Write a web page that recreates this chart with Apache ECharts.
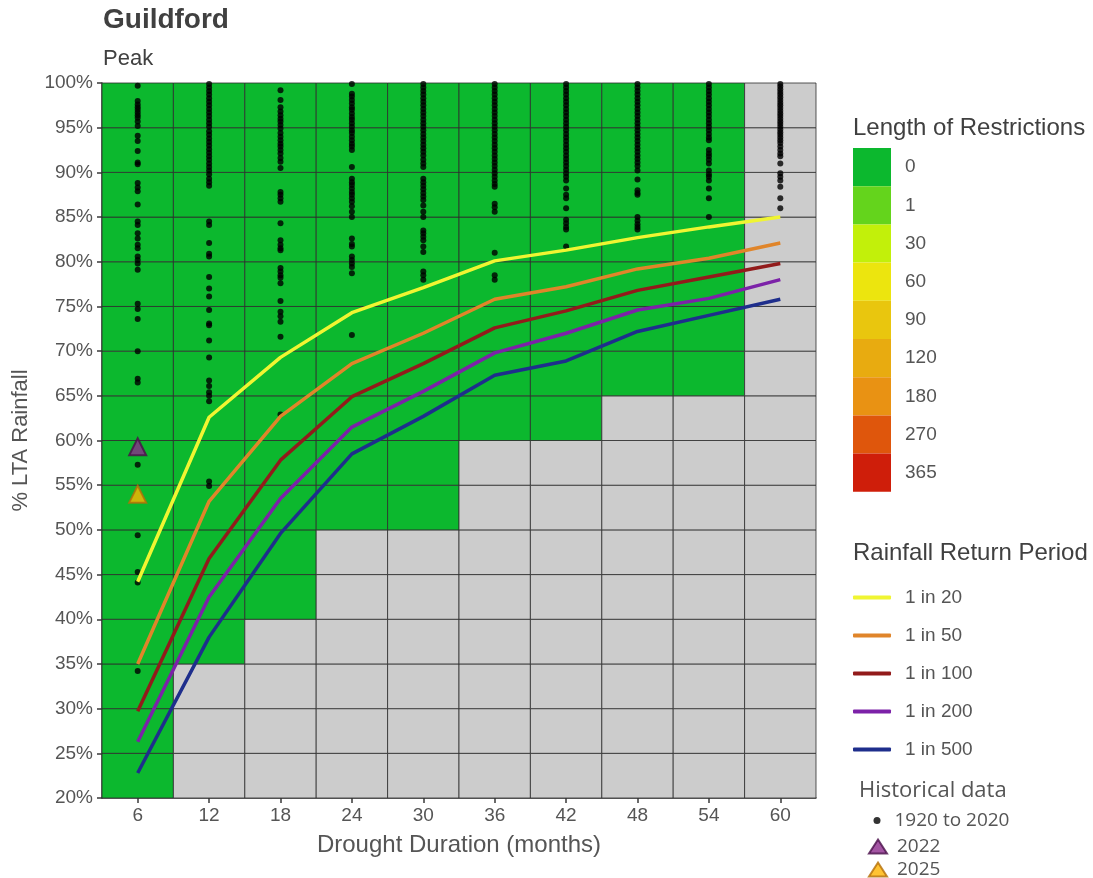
<!DOCTYPE html>
<html>
<head>
<meta charset="utf-8">
<script src="https://cdn.jsdelivr.net/npm/echarts@6/dist/echarts.min.js"></script>
<style>
html,body{margin:0;padding:0;background:#fff;}
#chart{width:1093px;height:878px;}
</style>
</head>
<body>
<div id="chart"></div>
<script>
// ---------------- DATA ----------------
const durations = [6, 12, 18, 24, 30, 36, 42, 48, 54, 60];           // drought duration (months)
const yTicks = [20, 100, 5];                                           // min, max, step of % LTA rainfall
// lowest % LTA band (band start) that still has 0 days of restrictions; null = no modelled data
const greenFloor = [20, 35, 40, 50, 50, 60, 60, 65, 65, null];

// restriction-length colour key
const restrictionLabels = ['0', '1', '30', '60', '90', '120', '180', '270', '365'];
const restrictionValues = [0, 1, 30, 60, 90, 120, 180, 270, 365];
const restrictionColors = ['#0cb82e', '#64d41c', '#c2f00a', '#ece50e', '#e9c60e', '#e8ab10', '#e99213', '#df560c', '#cf1e0a'];

// rainfall return period curves (% LTA)
const rpNames = ['1 in 20', '1 in 50', '1 in 100', '1 in 200', '1 in 500'];
const rpColors = ['#f0f532', '#e0852a', '#921b1b', '#7c22a8', '#1e2e8c'];
const rp20  = [44.2, 62.6, 69.3, 74.3, 77.1, 80.1, 81.3, 82.7, 83.9, 85.0];
const rp50  = [35.0, 53.2, 62.7, 68.6, 72.0, 75.8, 77.2, 79.2, 80.4, 82.1];
const rp100 = [29.7, 46.8, 57.8, 64.9, 68.6, 72.6, 74.5, 76.8, 78.3, 79.8];
const rp200 = [26.3, 42.5, 53.5, 61.5, 65.5, 69.8, 72.0, 74.6, 75.9, 78.0];
const rp500 = [22.8, 38.0, 49.6, 58.5, 62.7, 67.3, 68.9, 72.2, 74.0, 75.8];

// historical droughts 1920-2020 (% LTA) for each duration
const hist6  = [99.7, 98.0, 97.6, 97.3, 97.0, 96.7, 96.4, 96.1, 95.7, 95.2, 94.1, 93.5, 92.4, 91.1, 90.9, 88.8, 88.3, 87.9, 86.4, 84.5, 84.1, 83.2, 82.6, 81.9, 81.5, 80.6, 80.2, 79.8, 79.1, 75.3, 74.7, 73.6, 70.0, 66.9, 66.5, 57.3, 49.4, 45.3, 44.1, 34.2];
const hist12 = [99.9, 99.5, 99.1, 98.7, 98.3, 97.9, 97.5, 97.1, 96.7, 96.3, 95.9, 95.5, 95.1, 94.6, 94.2, 93.8, 93.4, 93.0, 92.6, 92.2, 91.8, 91.4, 91.0, 90.6, 90.2, 89.8, 89.3, 88.9, 88.5, 84.5, 84.1, 82.1, 80.9, 80.6, 78.3, 77.0, 76.1, 74.6, 73.1, 72.9, 71.2, 69.3, 66.7, 66.1, 65.4, 65.0, 64.4, 55.4, 54.9];
const hist18 = [99.2, 98.1, 97.3, 96.8, 96.4, 96.0, 95.7, 95.3, 94.9, 94.4, 94.0, 93.6, 93.2, 92.9, 92.5, 92.1, 91.6, 91.2, 90.5, 87.8, 87.5, 87.1, 86.7, 84.3, 82.4, 81.9, 81.5, 81.3, 79.3, 78.9, 78.5, 78.2, 77.6, 75.6, 74.4, 73.9, 73.3, 71.6, 62.9];
const hist24 = [99.9, 98.8, 98.5, 98.1, 97.7, 97.3, 97.0, 96.6, 96.2, 95.9, 95.5, 95.1, 94.7, 94.4, 94.0, 93.6, 93.2, 92.9, 92.5, 90.6, 89.3, 88.9, 88.6, 88.2, 87.8, 87.5, 87.1, 86.7, 86.2, 85.6, 85.0, 82.6, 82.0, 81.7, 80.6, 80.2, 79.8, 79.4, 78.7, 71.8];
const hist30 = [99.9, 99.5, 99.1, 98.7, 98.3, 97.9, 97.5, 97.1, 96.7, 96.3, 95.9, 95.5, 95.1, 94.7, 94.3, 93.9, 93.5, 93.1, 92.7, 92.3, 91.9, 91.4, 91.0, 90.6, 89.3, 88.9, 88.5, 88.1, 87.7, 87.3, 86.9, 86.3, 85.6, 85.0, 83.5, 83.2, 82.8, 82.4, 81.7, 81.1, 78.9, 78.5, 78.0];
const hist36 = [99.9, 99.5, 99.1, 98.7, 98.3, 97.9, 97.5, 97.1, 96.7, 96.3, 95.9, 95.5, 95.1, 94.7, 94.3, 93.9, 93.5, 93.1, 92.7, 92.3, 91.9, 91.5, 91.1, 90.7, 90.3, 89.9, 89.5, 89.1, 88.7, 88.4, 86.5, 86.1, 85.6, 81.0, 78.5, 78.0];
const hist42 = [99.9, 99.5, 99.1, 98.7, 98.3, 97.9, 97.5, 97.1, 96.7, 96.3, 95.9, 95.5, 95.1, 94.7, 94.3, 93.9, 93.5, 93.1, 92.7, 92.3, 91.9, 91.5, 91.1, 90.7, 90.3, 89.9, 89.5, 89.1, 88.2, 87.5, 87.1, 86.0, 84.7, 84.3, 83.9, 83.6, 81.7];
const hist48 = [99.9, 99.5, 99.1, 98.7, 98.3, 97.9, 97.5, 97.1, 96.7, 96.3, 95.9, 95.5, 95.1, 94.7, 94.3, 93.9, 93.5, 93.1, 92.7, 92.3, 91.9, 91.5, 91.1, 90.7, 90.2, 89.2, 88.0, 87.7, 87.5, 85.0, 84.6, 84.2, 83.9, 83.6];
const hist54 = [99.9, 99.5, 99.1, 98.7, 98.3, 97.9, 97.5, 97.1, 96.7, 96.3, 95.9, 95.5, 95.1, 94.7, 94.3, 93.9, 93.6, 92.5, 92.1, 91.8, 91.4, 91.0, 90.2, 89.8, 89.5, 89.1, 88.2, 87.1, 85.0];
const hist60 = [99.9, 99.6, 99.3, 99.0, 98.7, 98.4, 98.1, 97.8, 97.5, 97.2, 96.9, 96.6, 96.3, 96.0, 95.7, 95.4, 95.1, 94.8, 94.5, 94.2, 93.9, 93.6, 93.3, 92.9, 92.5, 92.1, 91.8, 91.0, 89.9, 89.5, 89.1, 88.4, 87.1, 86.0];
const histByDuration = [hist6, hist12, hist18, hist24, hist30, hist36, hist42, hist48, hist54, hist60];
const histName = '1920 to 2020';

const recentNames = ['2022', '2025'];
const recentDuration = [6, 6];
const recentValue = [59.3, 54.0];
const recentFill = ['#8c2b8c', '#ffb400'];
const recentBorder = ['#4a0f4a', '#b46e08'];

// ---------------- BUILD ----------------
const FONT = '"Liberation Sans", Arial, sans-serif';
const FONT2 = '"Open Sans", sans-serif';
const xCats = durations.map(String);
const cellData = [];
durations.forEach((d, ci) => {
  for (let lo = yTicks[0]; lo < yTicks[1]; lo += yTicks[2]) {
    const f = greenFloor[ci];
    cellData.push([xCats[ci], lo, (f !== null && lo >= f) ? 0 : -1]);
  }
});
const rpData = [rp20, rp50, rp100, rp200, rp500];
const histData = [];
histByDuration.forEach((arr, ci) => arr.forEach(v => histData.push([xCats[ci], v])));

const pieces = restrictionValues.map((v, i) => {
  const p = i === 0 ? { value: v } : { gt: restrictionValues[i - 1], lte: v };
  p.label = restrictionLabels[i];
  p.color = restrictionColors[i];
  return p;
});

const series = [{
  type: 'custom',
  name: 'cells',
  data: cellData,
  encode: { x: 0, y: 1 },
  z: 1,
  silent: true,
  renderItem: function (params, api) {
    const lo = api.value(1);
    const ci = api.value(0);
    const p0 = api.coord([ci, lo]);
    const p1 = api.coord([ci, lo + yTicks[2]]);
    const bw = api.size([1, 0])[0];
    return {
      type: 'rect',
      shape: { x: p0[0] - bw / 2, y: p1[1], width: bw, height: p0[1] - p1[1] },
      style: { fill: api.visual('color'), stroke: 'rgba(45,45,45,0.8)', lineWidth: 1 }
    };
  }
}];
series.push({
  type: 'scatter', name: histName, data: histData,
  symbol: 'circle', symbolSize: 6, z: 3,
  itemStyle: { color: '#000' }
});
rpNames.forEach((n, i) => {
  series.push({
    type: 'line', name: n, data: rpData[i], symbol: 'none', z: 4,
    lineStyle: { color: rpColors[i], width: 3.5 },
    itemStyle: { color: rpColors[i] }
  });
});
recentNames.forEach((n, i) => {
  series.push({
    type: 'scatter', name: n, data: [[String(recentDuration[i]), recentValue[i]]],
    symbol: 'triangle', symbolSize: 17, z: 5,
    itemStyle: { color: recentFill[i], borderColor: recentBorder[i], borderWidth: 2 }
  });
});

const histLegends = [
  { name: histName, top: 811, left: 873.5, w: 17, h: 7, pad: 4 },
  { name: recentNames[0], top: 837, left: 868, w: 18, h: 14, pad: 5 },
  { name: recentNames[1], top: 860, left: 868, w: 18, h: 14, pad: 5 }
].map(o => ({
  data: [o.name], orient: 'vertical', left: o.left, top: o.top, padding: 0,
  itemWidth: o.w, itemHeight: o.h, selectedMode: false,
  textStyle: { fontSize: 19, color: '#555', fontFamily: FONT2, padding: [0, 0, 0, o.pad] }
}));

const chart = echarts.init(document.getElementById('chart'), null, { renderer: 'canvas' });
chart.setOption({
  animation: false,
  backgroundColor: '#ffffff',
  textStyle: { fontFamily: FONT },
  title: [
    { text: 'Guildford', left: 103, top: 6, padding: 0, textStyle: { fontFamily: FONT, fontSize: 28, fontWeight: 'bold', color: '#404040' } },
    { text: 'Peak', left: 103, top: 48, padding: 0, textStyle: { fontFamily: FONT, fontSize: 22, fontWeight: 'normal', color: '#404040' } },
    { text: 'Length of Restrictions', left: 853, top: 116, padding: 0, textStyle: { fontFamily: FONT, fontSize: 24, fontWeight: 'normal', color: '#404040' } },
    { text: 'Rainfall Return Period', left: 853, top: 541, padding: 0, textStyle: { fontFamily: FONT, fontSize: 24, fontWeight: 'normal', color: '#404040' } },
    { text: 'Historical data', left: 859, top: 780, padding: 0, textStyle: { fontFamily: FONT2, fontSize: 22, fontWeight: 'normal', color: '#555' } }
  ],
  grid: { left: 102, top: 83, width: 714, height: 715, containLabel: false },
  xAxis: {
    type: 'category', data: xCats, boundaryGap: true,
    name: 'Drought Duration (months)', nameLocation: 'middle', nameGap: 35,
    nameTextStyle: { fontSize: 24, color: '#555', fontFamily: FONT },
    axisLine: { show: true, lineStyle: { color: '#3a3a3a', width: 1.5 } },
    axisTick: { show: true, alignWithLabel: true, length: 5, lineStyle: { color: '#3a3a3a', width: 1.5 } },
    axisLabel: { fontSize: 19, color: '#555', margin: 8, fontFamily: FONT },
    splitLine: { show: false }
  },
  yAxis: {
    type: 'value', min: yTicks[0], max: yTicks[1], interval: yTicks[2],
    name: '% LTA Rainfall', nameLocation: 'middle', nameGap: 70, nameRotate: 90,
    nameTextStyle: { fontSize: 22, color: '#555', fontFamily: FONT },
    axisLine: { show: true, lineStyle: { color: '#3a3a3a', width: 1.5 } },
    axisTick: { show: true, length: 5, lineStyle: { color: '#3a3a3a', width: 1.5 } },
    axisLabel: { fontSize: 19, color: '#555', margin: 9, formatter: '{value}%', fontFamily: FONT },
    splitLine: { show: false }
  },
  visualMap: {
    type: 'piecewise', seriesIndex: 0, dimension: 2,
    orient: 'vertical', inverse: true, align: 'left', left: 853, top: 148, padding: 0,
    itemWidth: 38, itemHeight: 38.2, itemGap: 0, itemSymbol: 'rect',
    textGap: 14, selectedMode: false, hoverLink: false,
    textStyle: { fontSize: 19, color: '#555', fontFamily: FONT },
    pieces: pieces,
    outOfRange: { color: '#cccccc' }
  },
  legend: [
    {
      data: rpNames.map(n => ({ name: n, icon: 'roundRect' })), orient: 'vertical', left: 853, top: 588, padding: 0,
      itemWidth: 38, itemHeight: 4, itemGap: 19, selectedMode: false,
      textStyle: { fontSize: 19, color: '#555', fontFamily: FONT, padding: [0, 0, 0, 9] }
    }
  ].concat(histLegends),
  series: series
});
</script>
</body>
</html>
